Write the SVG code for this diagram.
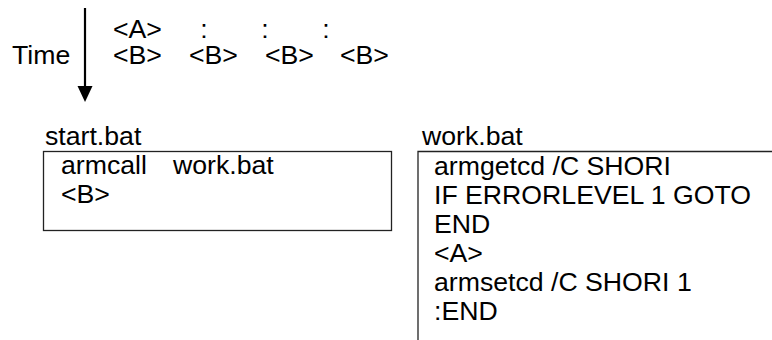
<svg xmlns="http://www.w3.org/2000/svg" width="772" height="340" viewBox="0 0 772 340">
<defs>
<style>
text{font-family:"Liberation Sans",Arial,sans-serif;font-size:26.67px;fill:#000}
.box{fill:none;stroke:#222;stroke-width:1.3}
</style>
</defs>
<rect width="772" height="340" fill="#fff"/>
<g id="timeline">
<text x="12" y="64">Time</text>
<line x1="85" y1="8" x2="85" y2="88" stroke="#000" stroke-width="2.2"/>
<path d="M77.5,86 L92.5,86 L85,102 Z" fill="#000"/>
<text x="113" y="38">&lt;A&gt;</text>
<text x="204" y="38" text-anchor="middle">:</text>
<text x="265" y="38" text-anchor="middle">:</text>
<text x="326" y="38" text-anchor="middle">:</text>
<text x="113" y="64">&lt;B&gt;</text>
<text x="189" y="64">&lt;B&gt;</text>
<text x="265" y="64">&lt;B&gt;</text>
<text x="340" y="64">&lt;B&gt;</text>
</g>
<g id="start">
<text x="45" y="145">start.bat</text>
<rect class="box" x="43.5" y="151.5" width="348" height="79"/>
<text x="61" y="173.5">armcall</text>
<text x="173" y="173.5">work.bat</text>
<text x="61" y="203">&lt;B&gt;</text>
</g>
<g id="work">
<text x="422" y="145">work.bat</text>
<path class="box" d="M418,340 L418,151.5 L772,151.5"/>
<text x="434" y="175">armgetcd /C SHORI</text>
<text x="434" y="204">IF ERRORLEVEL 1 GOTO</text>
<text x="434" y="233">END</text>
<text x="434" y="262">&lt;A&gt;</text>
<text x="434" y="291">armsetcd /C SHORI 1</text>
<text x="434" y="320">:END</text>
</g>
</svg>
